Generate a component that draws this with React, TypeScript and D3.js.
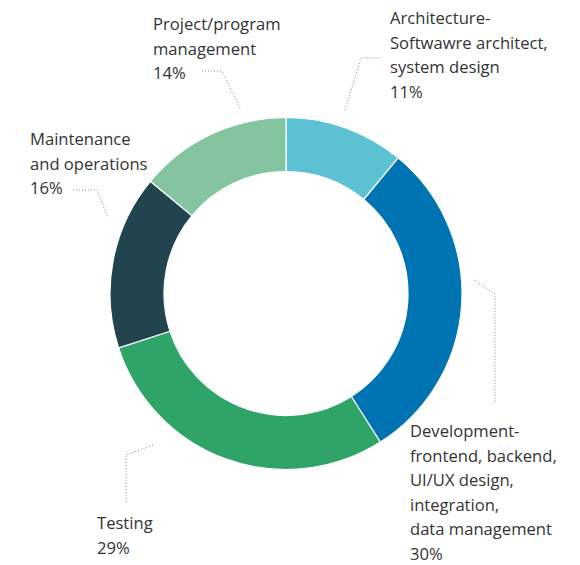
import React, { useEffect, useRef } from 'react';
import * as d3 from 'd3';

// values, clockwise from 12 o'clock
const categories = [
  'Architecture-Softwawre architect, system design',
  'Development-frontend, backend, UI/UX design, integration, data management',
  'Testing',
  'Maintenance and operations',
  'Project/program management',
];
const values = [11, 30, 29, 16, 14];
const colors = ['#5bc1d3', '#0073b2', '#2ea468', '#21444e', '#84c5a0'];

// label lines as wrapped in the original
const labelLines = [
  ['Architecture-', 'Softwawre architect,', 'system design'],
  ['Development-', 'frontend, backend,', 'UI/UX design,', 'integration,', 'data management'],
  ['Testing'],
  ['Maintenance', 'and operations'],
  ['Project/program', 'management'],
];

export default function App() {
  const ref = useRef<SVGSVGElement>(null);

  useEffect(() => {
    const svg = d3.select(ref.current);
    svg.selectAll('*').remove();

    const cx = 286, cy = 293.5;
    const outerR = 176, innerR = 122;

    const pie = d3.pie<number>().sort(null).value(d => d);
    const arc = d3.arc<d3.PieArcDatum<number>>().innerRadius(innerR).outerRadius(outerR);
    const arcs = pie(values);

    const g = svg.append('g').attr('transform', `translate(${cx},${cy})`);
    g.selectAll('path')
      .data(arcs)
      .enter()
      .append('path')
      .attr('d', d => arc(d))
      .attr('fill', (d, i) => colors[i])
      .attr('stroke', '#fff')
      .attr('stroke-width', 1.2);

    // label placement (text block origin + leader line points), relative to svg
    const labelPos = [
      { x: 390, y: 24, line: [[345, 110], [361, 58], [382, 58]] },
      { x: 410, y: 437, line: [[474, 280], [495, 294], [495, 403]] },
      { x: 97, y: 529, line: [[153, 445], [126, 455], [126, 503]] },
      { x: 30, y: 145, line: [[73, 190], [97, 190], [108, 218]] },
      { x: 153, y: 30, line: [[202, 71], [222, 71], [240, 108]] },
    ];
    const lh = 24.6;

    const line = d3.line();
    labelPos.forEach((p, i) => {
      svg.append('path')
        .attr('d', line(p.line as [number, number][]))
        .attr('fill', 'none')
        .attr('stroke', '#8a8a8a')
        .attr('stroke-width', 1)
        .attr('stroke-dasharray', '1,2');

      const t = svg.append('text')
        .attr('x', p.x)
        .attr('y', p.y)
        .attr('fill', '#333')
        .style('font-family', '"Open Sans", sans-serif')
        .style('font-size', '16.6px');
      const lines = [...labelLines[i], values[i] + '%'];
      lines.forEach((s, j) => {
        t.append('tspan')
          .attr('x', p.x)
          .attr('dy', j === 0 ? 0 : lh)
          .text(s);
      });
    });
  }, []);

  return (
    <svg ref={ref} width={580} height={565} style={{ display: 'block', position: 'absolute', left: 0, top: 0 }}></svg>
  );
}
